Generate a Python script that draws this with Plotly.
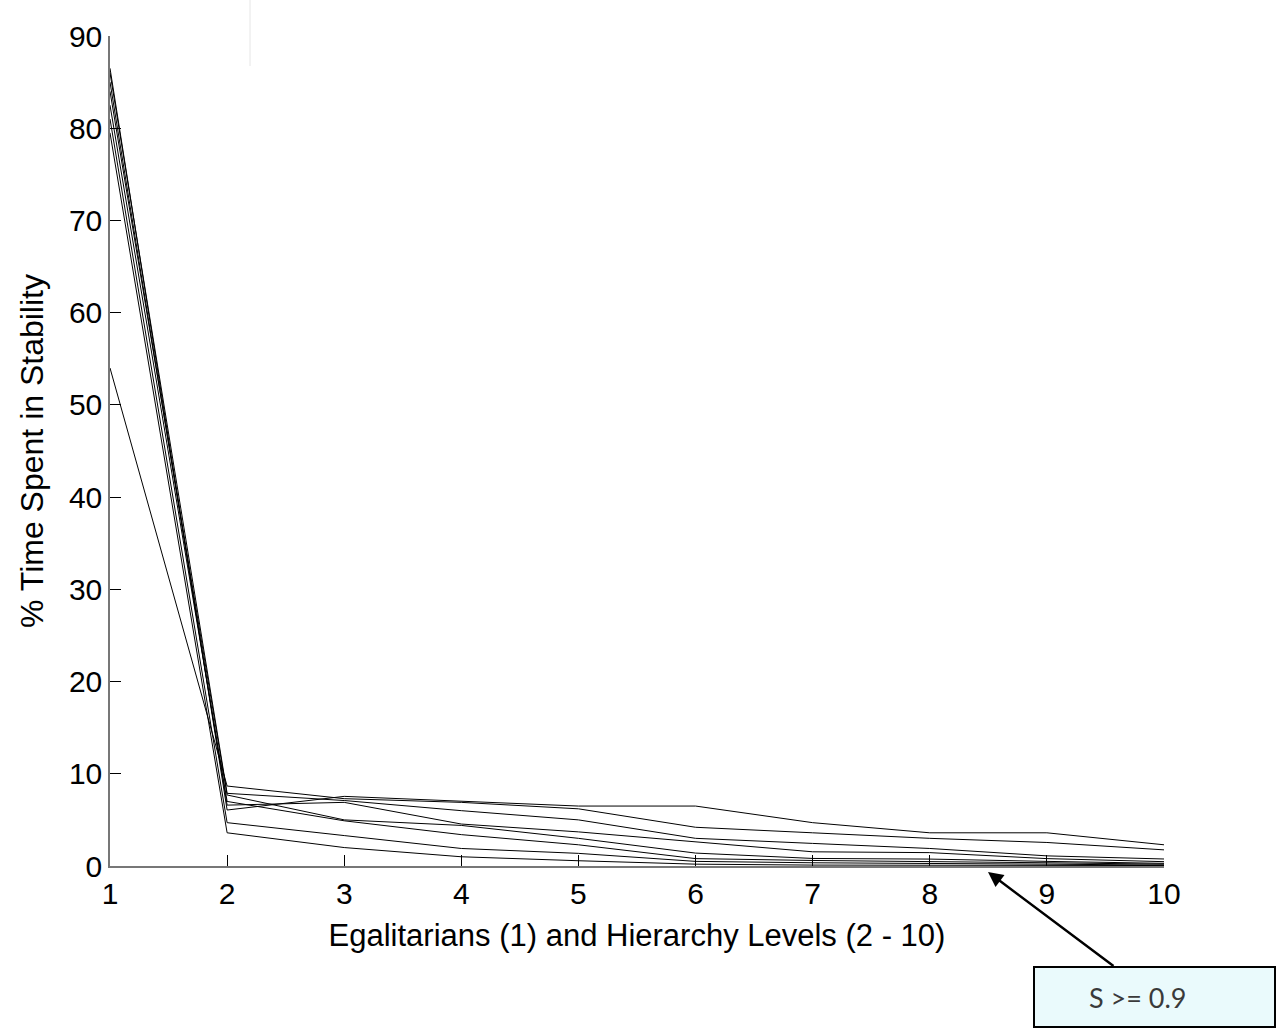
import plotly.graph_objects as go

levels = [1, 2, 3, 4, 5, 6, 7, 8, 9, 10]

series_a = [86.5, 6.07, 7.55, 7.0, 6.5, 6.5, 4.7, 3.6, 3.6, 2.3]
series_b = [54.0, 8.67, 7.3, 6.9, 6.2, 4.2, 3.6, 3.0, 2.55, 1.75]
series_c = [86.0, 7.88, 7.1, 6.0, 5.0, 3.0, 2.45, 1.9, 1.1, 0.76]
series_d = [85.0, 6.6, 6.9, 4.55, 3.7, 2.6, 1.54, 1.45, 0.8, 0.47]
series_e = [84.0, 7.7, 5.0, 4.4, 3.0, 1.4, 0.82, 0.75, 0.5, 0.29]
series_f = [82.5, 7.0, 4.9, 3.4, 2.3, 0.8, 0.6, 0.5, 0.35, 0.2]
series_g = [81.0, 4.7, 3.3, 1.9, 1.37, 0.5, 0.35, 0.3, 0.2, 0.1]
series_h = [79.5, 3.6, 2.0, 1.0, 0.57, 0.2, 0.1, 0.1, 0.05, 0.05]

all_series = [series_a, series_b, series_c, series_d, series_e, series_f, series_g, series_h]

x_ticks = [1, 2, 3, 4, 5, 6, 7, 8, 9, 10]
y_ticks = [0, 10, 20, 30, 40, 50, 60, 70, 80, 90]

fig = go.Figure()
for s in all_series:
    fig.add_trace(go.Scatter(x=levels, y=s, mode="lines",
                             line=dict(color="black", width=1),
                             showlegend=False, hoverinfo="skip"))

W, H = 1277, 1034
L, R, T, B = 110, 113, 36, 168
pw = W - L - R
ph = H - T - B

def px(xp):
    return (xp - L) / pw

def py(yp):
    return (H - B - yp) / ph

fam = "Liberation Sans, Arial, sans-serif"
font = dict(family=fam, size=30, color="black")

fig.update_layout(
    width=W, height=H,
    margin=dict(l=L, r=R, t=T, b=B, pad=0),
    paper_bgcolor="white", plot_bgcolor="white",
    font=font,
    xaxis=dict(range=[1, 10], tickvals=x_ticks, ticks="inside", ticklen=11,
               tickcolor="black", showline=True, linecolor="#777777", linewidth=1.5,
               showgrid=False, zeroline=False, tickfont=font,
               title=dict(text="Egalitarians (1) and Hierarchy Levels (2 - 10)",
                          font=dict(family=fam, size=31, color="black"), standoff=16)),
    yaxis=dict(range=[0, 90], tickvals=y_ticks, ticks="inside", ticklen=11,
               tickcolor="black", showline=True, linecolor="#777777", linewidth=1.5,
               showgrid=False, zeroline=False, tickfont=font,
               title=dict(text="% Time Spent in Stability",
                          font=dict(family=fam, size=32, color="black"), standoff=16)),
)

# faint artifact line at top
fig.add_shape(type="line", xref="paper", yref="paper",
              x0=px(250), x1=px(250), y0=py(0), y1=py(66),
              line=dict(color="#e6e6e6", width=1))

# annotation box
fig.add_shape(type="rect", xref="paper", yref="paper",
              x0=px(1034), x1=px(1275), y0=py(1027), y1=py(967),
              line=dict(color="black", width=2), fillcolor="#eafafc")
fig.add_annotation(xref="paper", yref="paper", x=px(1137), y=py(997),
                   xanchor="center", yanchor="middle",
                   text="S >= 0.9", showarrow=False,
                   font=dict(family="Lato, Open Sans, sans-serif", size=27, color="#3a3a3a"))
fig.add_annotation(xref="paper", yref="paper", x=px(988), y=py(872),
                   ax=1115 - 988, ay=967 - 872, axref="pixel", ayref="pixel",
                   text="", showarrow=True, arrowhead=2, arrowsize=1.2,
                   arrowwidth=2.5, arrowcolor="black")

fig.write_html("out.html")
